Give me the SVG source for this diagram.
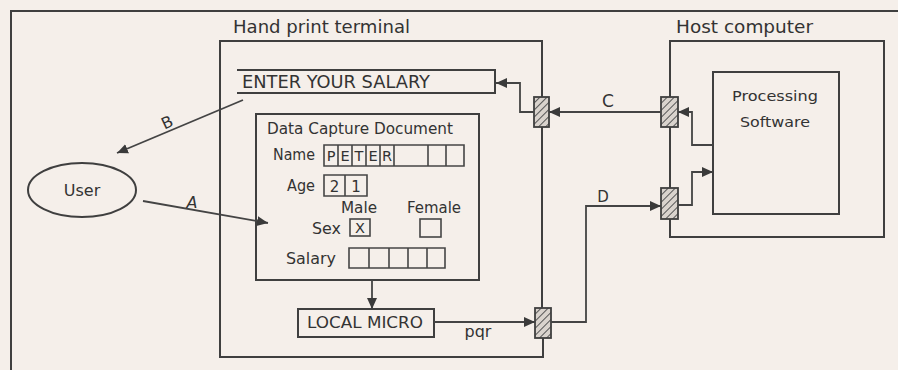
<svg xmlns="http://www.w3.org/2000/svg" width="898" height="370" viewBox="0 0 898 370">
<style>
.t{font-family:"DejaVu Sans","Liberation Sans",Arial,sans-serif;fill:#333;}
.ln{fill:none;stroke:#3f3f3f;stroke-width:2;}
.th{fill:none;stroke:#454545;stroke-width:1.6;}
.port{fill:url(#hatch);stroke:#3f3f3f;stroke-width:1.8;}
.cn{fill:none;stroke:#444;stroke-width:1.8;marker-end:url(#ah);}
</style>
<defs>
<pattern id="hatch" patternUnits="userSpaceOnUse" width="5" height="5" patternTransform="rotate(45)">
<rect width="5" height="5" fill="#d9d3cd"/>
<line x1="0" y1="0" x2="0" y2="5" stroke="#555" stroke-width="2"/>
</pattern>
<marker id="ah" markerUnits="userSpaceOnUse" markerWidth="11" markerHeight="10" refX="11" refY="5" orient="auto">
<path d="M0,0 L11,5 L0,10 z" fill="#3a3a3a"/>
</marker>
</defs>
<rect width="898" height="370" fill="#f5efea"/>
<g id="frame"><path class="ln" d="M10,11 H898 M11,11 V370"/></g>

<g id="terminal">
<path class="ln" d="M542,97 V41 H220 V357 H543 V338 M542,127 V308"/>
<text class="t" x="233" y="33" font-size="18" textLength="177" lengthAdjust="spacingAndGlyphs">Hand print terminal</text>
</g>

<g id="host">
<path class="ln" d="M670,97 V41 H884 V237 H670 V219 M670,127 V188"/>
<text class="t" x="676" y="33" font-size="18" textLength="137" lengthAdjust="spacingAndGlyphs">Host computer</text>
</g>

<g id="processing">
<rect class="ln" x="713" y="72" width="126" height="142"/>
<text class="t" x="732" y="101" font-size="14" textLength="86" lengthAdjust="spacingAndGlyphs">Processing</text>
<text class="t" x="740" y="127" font-size="14" textLength="70" lengthAdjust="spacingAndGlyphs">Software</text>
</g>

<g id="ports">
<rect class="port" x="534" y="97" width="15" height="30"/>
<rect class="port" x="661" y="97" width="17" height="30"/>
<rect class="port" x="661" y="188" width="17" height="31"/>
<rect class="port" x="535" y="308" width="16" height="30"/>
</g>

<g id="enter-salary">
<path class="ln" d="M237,70 H495 V93 H237"/>
<text class="t" x="242" y="88" font-size="17" textLength="188" lengthAdjust="spacingAndGlyphs">ENTER YOUR SALARY</text>
</g>

<g id="user">
<ellipse class="ln" cx="82" cy="190" rx="54" ry="27"/>
<text class="t" x="82" y="196" font-size="16" text-anchor="middle">User</text>
</g>

<g id="data-capture">
<rect class="ln" x="256" y="114" width="223" height="166"/>
<text class="t" x="267" y="134" font-size="15" textLength="186" lengthAdjust="spacingAndGlyphs">Data Capture Document</text>
<text class="t" x="273" y="160" font-size="15.5" textLength="42" lengthAdjust="spacingAndGlyphs">Name</text>
<path class="th" d="M324,145 H464 V166 H324 Z M338,145 V166 M352,145 V166 M366,145 V166 M380,145 V166 M394,145 V166 M428,145 V166 M446,145 V166"/>
<g class="t" font-size="14.5" text-anchor="middle">
<text x="331" y="161">P</text><text x="345" y="161">E</text><text x="359" y="161">T</text><text x="373" y="161">E</text><text x="387" y="161">R</text>
</g>
<text class="t" x="287" y="191" font-size="15.5" textLength="28" lengthAdjust="spacingAndGlyphs">Age</text>
<path class="th" d="M324,175 H367 V196 H324 Z M345,175 V196"/>
<text class="t" x="334.5" y="192" font-size="15" text-anchor="middle">2</text>
<text class="t" x="356" y="192" font-size="15" text-anchor="middle">1</text>
<text class="t" x="341" y="213" font-size="15" textLength="36" lengthAdjust="spacingAndGlyphs">Male</text>
<text class="t" x="407" y="213" font-size="15" textLength="54" lengthAdjust="spacingAndGlyphs">Female</text>
<text class="t" x="312" y="234" font-size="15.5" textLength="29" lengthAdjust="spacingAndGlyphs">Sex</text>
<rect class="th" x="350" y="219" width="20" height="17"/>
<text class="t" x="360" y="233" font-size="14.5" text-anchor="middle">X</text>
<rect class="th" x="420" y="219" width="21" height="18"/>
<text class="t" x="286" y="264" font-size="15.5" textLength="50" lengthAdjust="spacingAndGlyphs">Salary</text>
<path class="th" d="M349,248 H445 V268 H349 Z M369,248 V268 M389,248 V268 M408,248 V268 M427,248 V268"/>
</g>

<g id="local-micro">
<rect class="ln" x="298" y="309" width="136" height="28"/>
<text class="t" x="307" y="328" font-size="16" textLength="116" lengthAdjust="spacingAndGlyphs">LOCAL MICRO</text>
</g>

<g id="connectors">
<path class="cn" d="M661,112 H549"/>
<path class="cn" d="M534,112 H520 V83 H496"/>
<path class="cn" d="M713,145 H692 V112 H678"/>
<path class="cn" d="M678,205 H692 V172 H713"/>
<path class="cn" d="M551,322 H586 V206 H661"/>
<path class="cn" d="M434,322 H535"/>
<path class="cn" d="M372,280 V309"/>
<path class="cn" d="M143,201 L268,223"/>
<path class="cn" d="M243,100 L117,153"/>
<text class="t" x="608" y="107" font-size="17" text-anchor="middle">C</text>
<text class="t" x="603" y="202" font-size="15" text-anchor="middle">D</text>
<text class="t" x="478" y="337" font-size="16" text-anchor="middle">pqr</text>
<text class="t" x="192" y="208" font-size="16" text-anchor="middle" font-style="italic">A</text>
<text class="t" x="167" y="128" font-size="16" text-anchor="middle" transform="rotate(-25 167 122)">B</text>
</g>
</svg>
